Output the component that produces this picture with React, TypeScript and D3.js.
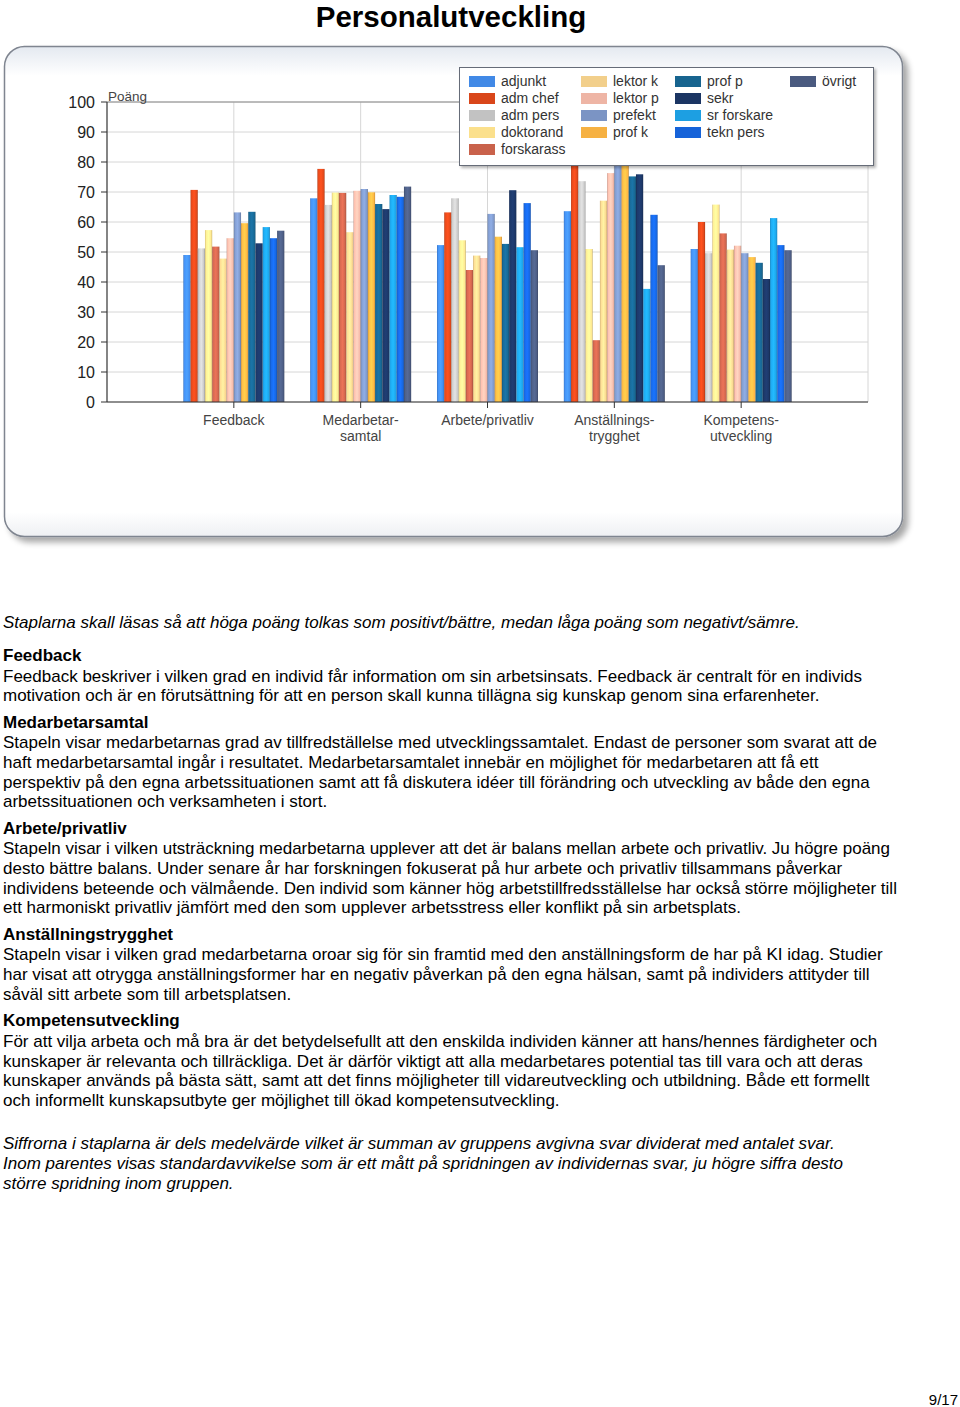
import React from "react";
import * as d3 from "d3";

const categories = ["Feedback", "Medarbetar-\nsamtal", "Arbete/privatliv", "Anställnings-\ntrygghet", "Kompetens-\nutveckling"];
const seriesNames = ["adjunkt", "adm chef", "adm pers", "doktorand", "forskarass", "lektor k", "lektor p", "prefekt", "prof k", "prof p", "sekr", "sr forskare", "tekn pers", "övrigt"];
const seriesColors = ["#4189e6", "#d9461a", "#c2c2c2", "#fbe08c", "#c9624b", "#f2cf8b", "#eeb5a5", "#7b94c4", "#f6b142", "#17648f", "#1b3563", "#1d9fe2", "#1663d9", "#4a5a7f"];
// values per category, in series order
const feedbackVals = [49, 70.7, 51.2, 57.3, 51.8, 47.8, 54.6, 63.2, 59.6, 63.4, 52.9, 58.3, 54.6, 57.1];
const medarbVals = [67.9, 77.7, 65.7, 69.8, 69.7, 56.6, 70.4, 71, 69.9, 66, 64.3, 69, 68.4, 71.8];
const arbeteVals = [52.3, 63.2, 67.9, 53.9, 44, 48.8, 48, 62.7, 55.1, 52.7, 70.6, 51.6, 66.3, 50.6];
const anstVals = [63.6, 83, 73.6, 51, 20.6, 67.1, 76.3, 81, 80, 75.2, 75.9, 37.7, 62.4, 45.6];
const kompVals = [51, 60, 49.6, 65.8, 56.2, 50.8, 52.1, 49.6, 48.3, 46.4, 41, 61.3, 52.3, 50.6];
const valueTable = [feedbackVals, medarbVals, arbeteVals, anstVals, kompVals];
const yTicks = [0, 10, 20, 30, 40, 50, 60, 70, 80, 90, 100];

const introLine = "Staplarna skall läsas så att höga poäng tolkas som positivt/bättre, medan låga poäng som negativt/sämre.";
const sections: { head: string; lines: string[] }[] = [
  { head: "Feedback", lines: [
    "Feedback beskriver i vilken grad en individ får information om sin arbetsinsats. Feedback  är centralt för en individs",
    "motivation och är en förutsättning för att en person skall kunna tillägna sig kunskap genom sina erfarenheter."] },
  { head: "Medarbetarsamtal", lines: [
    "Stapeln visar medarbetarnas grad av tillfredställelse med utvecklingssamtalet. Endast de personer som svarat att de",
    "haft medarbetarsamtal ingår i resultatet. Medarbetarsamtalet innebär en möjlighet för medarbetaren att få ett",
    "perspektiv på den egna arbetssituationen samt att få diskutera idéer till förändring och utveckling av både den egna",
    "arbetssituationen och verksamheten i stort."] },
  { head: "Arbete/privatliv", lines: [
    "Stapeln visar i vilken utsträckning medarbetarna upplever att det är balans mellan arbete och privatliv. Ju högre poäng",
    "desto bättre balans. Under senare år har forskningen fokuserat på hur arbete och privatliv tillsammans påverkar",
    "individens beteende och välmående. Den individ som känner hög arbetstillfredsställelse har också större möjligheter till",
    "ett harmoniskt privatliv jämfört med den som upplever arbetsstress eller konflikt på sin arbetsplats."] },
  { head: "Anställningstrygghet", lines: [
    "Stapeln visar i vilken grad medarbetarna oroar sig för sin framtid med den anställningsform de har på KI idag. Studier",
    "har visat att otrygga anställningsformer har en negativ påverkan på den egna hälsan, samt på individers attityder till",
    "såväl sitt arbete som till arbetsplatsen."] },
  { head: "Kompetensutveckling", lines: [
    "För att vilja arbeta och må bra är det betydelsefullt att den enskilda individen känner att hans/hennes färdigheter och",
    "kunskaper är relevanta och tillräckliga. Det är därför viktigt att alla medarbetares potential tas till vara och att deras",
    "kunskaper används på bästa sätt, samt att det finns möjligheter till vidareutveckling och utbildning. Både ett formellt",
    "och informellt kunskapsutbyte ger möjlighet till ökad kompetensutveckling."] },
];
const outroLines = [
  "Siffrorna i staplarna är dels medelvärde vilket är summan av gruppens avgivna svar dividerat med antalet svar.",
  "Inom parentes visas standardavvikelse som är ett mått på spridningen av individernas svar, ju högre siffra desto",
  "större spridning inom gruppen.",
];

const W = 960, H = 1407;
const FONT = "'Liberation Sans', Arial, Helvetica, sans-serif";

export default function App() {
  const plotL = 107, plotR = 868, plotT = 102, plotB = 402;
  const x = d3.scaleLinear().domain([0, categories.length + 1]).range([plotL, plotR]);
  const y = d3.scaleLinear().domain([0, 100]).range([plotB, plotT]);
  const groupW = 101;
  const inner = d3.scaleBand<string>().domain(seriesNames).range([-groupW / 2, groupW / 2]).padding(0);

  // text layout
  const textEls: React.ReactNode[] = [];
  let cy = 628;
  textEls.push(<text key="intro" x={3} y={cy} fontStyle="italic">{introLine}</text>);
  cy += 33;
  sections.forEach((s, si) => {
    textEls.push(<text key={"h" + si} x={3} y={cy} fontWeight="bold">{s.head}</text>);
    cy += 20.5;
    s.lines.forEach((l, li) => {
      textEls.push(<text key={"l" + si + "_" + li} x={3} y={cy}>{l}</text>);
      if (li < s.lines.length - 1) cy += 19.7;
    });
    cy += 26.5;
  });
  cy += 16.5;
  outroLines.forEach((l, i) => {
    textEls.push(<text key={"o" + i} x={3} y={cy} fontStyle="italic">{l}</text>);
    cy += 20;
  });

  const legendCols = [[0, 1, 2, 3, 4], [5, 6, 7, 8], [9, 10, 11, 12], [13]];
  const legendColX = [469, 581, 675, 790];

  return (
    <svg width={W} height={H} style={{ position: "absolute", left: 0, top: 0, background: "#fff" }} fontFamily={FONT}>
      <defs>
        <filter id="cardShadow" x="-5%" y="-5%" width="112%" height="115%">
          <feGaussianBlur in="SourceAlpha" stdDeviation="3" />
          <feOffset dx="5" dy="5" result="ob" />
          <feComponentTransfer><feFuncA type="linear" slope="0.35" /></feComponentTransfer>
          <feMerge><feMergeNode /><feMergeNode in="SourceGraphic" /></feMerge>
        </filter>
        <filter id="legShadow" x="-5%" y="-10%" width="115%" height="130%">
          <feGaussianBlur in="SourceAlpha" stdDeviation="1.5" />
          <feOffset dx="2" dy="2" />
          <feComponentTransfer><feFuncA type="linear" slope="0.3" /></feComponentTransfer>
          <feMerge><feMergeNode /><feMergeNode in="SourceGraphic" /></feMerge>
        </filter>
        <linearGradient id="cardTop" x1="0" y1="0" x2="0" y2="1">
          <stop offset="0" stopColor="#e4e9f0" />
          <stop offset="0.06" stopColor="#ffffff" />
          <stop offset="0.95" stopColor="#ffffff" />
          <stop offset="1" stopColor="#eef0f3" />
        </linearGradient>
        {seriesColors.map((c, i) => {
          const col = d3.color(c)!;
          return (
            <linearGradient key={i} id={"bg" + i} x1="0" y1="0" x2="1" y2="0">
              <stop offset="0" stopColor={col.darker(0.5).formatHex()} />
              <stop offset="0.15" stopColor={col.brighter(0.2).formatHex()} />
              <stop offset="0.5" stopColor={col.brighter(0.45).formatHex()} />
              <stop offset="0.85" stopColor={col.brighter(0.1).formatHex()} />
              <stop offset="1" stopColor={col.darker(0.7).formatHex()} />
            </linearGradient>
          );
        })}
      </defs>

      <text x={451} y={27} textAnchor="middle" fontSize={29.5} fontWeight="bold" fill="#000">Personalutveckling</text>

      <rect x={4.5} y={46.5} width={898} height={490} rx={20} ry={20} fill="url(#cardTop)" stroke="#7f8590" strokeWidth={1.5} filter="url(#cardShadow)" />

      {/* gridlines */}
      {yTicks.map((t) => (
        <line key={"g" + t} x1={plotL} x2={plotR} y1={y(t)} y2={y(t)} stroke="#d6d6d6" strokeWidth={1} />
      ))}
      {d3.range(1, categories.length + 2).map((i) => (
        <line key={"vg" + i} x1={x(i)} x2={x(i)} y1={plotT} y2={plotB} stroke="#d6d6d6" strokeWidth={1} />
      ))}
      <line x1={plotL} x2={plotR} y1={plotT} y2={plotT} stroke="#8a8a8a" strokeWidth={1} />

      {/* bars */}
      {valueTable.map((vals, ci) => (
        <g key={"c" + ci} transform={`translate(${x(ci + 1)},0)`}>
          {vals.map((v, si) => (
            <rect key={si} x={inner(seriesNames[si])!} width={inner.bandwidth()} y={y(v)} height={y(0) - y(v)} fill={`url(#bg${si})`} />
          ))}
        </g>
      ))}

      {/* axes */}
      <line x1={plotL} x2={plotL} y1={plotT} y2={plotB} stroke="#333" strokeWidth={1.2} />
      <line x1={plotL} x2={plotR} y1={plotB} y2={plotB} stroke="#333" strokeWidth={1.2} />
      {yTicks.map((t) => (
        <g key={"t" + t}>
          <line x1={plotL - 6} x2={plotL} y1={y(t)} y2={y(t)} stroke="#333" />
          <text x={95} y={y(t) + 6} textAnchor="end" fontSize={16} fill="#222">{t}</text>
        </g>
      ))}
      <text x={108} y={101} fontSize={13.5} fill="#444">Poäng</text>
      {categories.map((c, ci) => (
        <g key={"xl" + ci}>
          <line x1={x(ci + 1)} x2={x(ci + 1)} y1={plotB} y2={plotB + 6} stroke="#333" />
          {c.split("\n").map((part, pi) => (
            <text key={pi} x={x(ci + 1)} y={425 + pi * 16} textAnchor="middle" fontSize={14} fill="#444">{part}</text>
          ))}
        </g>
      ))}

      {/* legend */}
      <rect x={459.5} y={67.5} width={414} height={98} fill="#fff" stroke="#666c78" strokeWidth={1} filter="url(#legShadow)" />
      {legendCols.map((col, ci) =>
        col.map((si, ri) => (
          <g key={"lg" + si} transform={`translate(${legendColX[ci]},${81 + ri * 17})`}>
            <rect x={0} y={-5} width={26} height={11} fill={seriesColors[si]} />
            <text x={32} y={5} fontSize={14} fill="#333">{seriesNames[si]}</text>
          </g>
        ))
      )}

      <g fontSize={17} fill="#000">{textEls}</g>

      <text x={958} y={1405} textAnchor="end" fontSize={15} fill="#000">9/17</text>
    </svg>
  );
}
